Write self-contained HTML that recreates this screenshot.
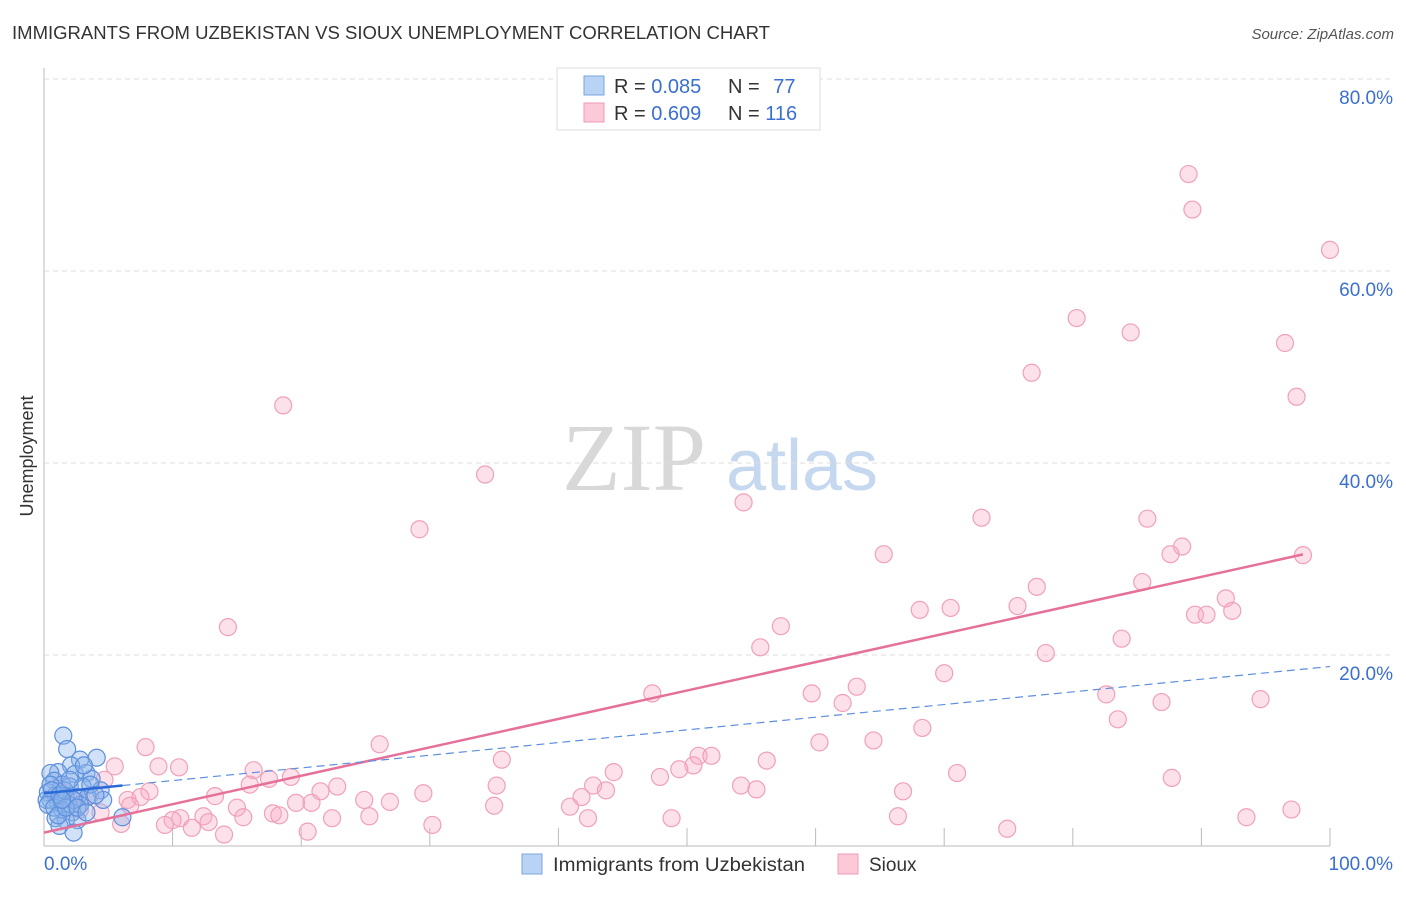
<!DOCTYPE html>
<html><head><meta charset="utf-8"><style>
body{margin:0;background:#fff;font-family:"Liberation Sans",sans-serif}
</style></head><body>
<svg id="chart" width="1406" height="892" xmlns="http://www.w3.org/2000/svg" font-family="Liberation Sans, sans-serif">
<text x="12" y="39" font-size="18" fill="#333" textLength="758" lengthAdjust="spacingAndGlyphs">IMMIGRANTS FROM UZBEKISTAN VS SIOUX UNEMPLOYMENT CORRELATION CHART</text>
<text x="1394" y="39" font-size="15" fill="#555" text-anchor="end" font-style="italic">Source: ZipAtlas.com</text>
<text transform="translate(33,456) rotate(-90)" font-size="18" fill="#333" text-anchor="middle">Unemployment</text>
<g>
<text x="634" y="490" font-size="96" fill="#d8d8d8" font-family="Liberation Serif, serif" text-anchor="middle">ZIP</text>
<text x="802" y="490" font-size="72" fill="#c5d8f0" text-anchor="middle">atlas</text>
</g>
<g id="grid"></g><g id="axes"></g><g id="pink"></g><g id="blue"></g><g id="lines"></g>
<g>
<rect x="557" y="68" width="263" height="62" fill="#fff" stroke="#ddd"/>
<rect x="584" y="76" width="20" height="19" fill="#b9d3f5" stroke="#7aa6e0"/>
<rect x="584" y="103" width="20" height="19" fill="#fcc9d8" stroke="#f09ab3"/>
<text x="614" y="93" font-size="20" fill="#333">R = <tspan fill="#3b6fd0">0.085</tspan></text>
<text x="728" y="93" font-size="20" fill="#333">N = <tspan fill="#3b6fd0" dx="8">77</tspan></text>
<text x="614" y="120" font-size="20" fill="#333">R = <tspan fill="#3b6fd0">0.609</tspan></text>
<text x="728" y="120" font-size="20" fill="#333">N = <tspan fill="#3b6fd0">116</tspan></text>
</g>
<g>
<rect x="522" y="854" width="20" height="20" fill="#b9d3f5" stroke="#7aa6e0"/>
<text x="553" y="871" font-size="19" fill="#333" textLength="252" lengthAdjust="spacingAndGlyphs">Immigrants from Uzbekistan</text>
<rect x="838" y="854" width="20" height="20" fill="#fcc9d8" stroke="#f09ab3"/>
<text x="869" y="871" font-size="19" fill="#333">Sioux</text>
</g>
</svg>
<script>
const yTicks=[20,40,60,80];
const yTickLabels=["20.0%","40.0%","60.0%","80.0%"];
const xTicks=[10,20,30,40,50,60,70,80,90,100];
const pinkX=[89.0,89.3,100,80.3,84.5,96.5,76.8,97.4,18.6,34.3,54.4,29.2,72.9,85.8,88.5,87.6,65.3,97.9,77.2,85.4,91.9,75.7,68.1,70.5,89.5,90.4,92.4,14.3,57.3,55.7,83.8,77.9,70.0,47.3,59.7,63.2,62.1,82.6,86.9,94.6,83.5,68.3,64.5,60.3,26.1,7.9,35.6,50.9,51.9,56.2,50.5,49.4,44.3,47.9,71.0,87.7,8.9,10.5,16.3,19.2,17.5,5.5,4.7,8.2,13.3,16.0,21.5,22.8,19.6,20.8,15.0,24.9,26.9,29.5,35.2,42.7,43.7,41.8,35.0,40.9,54.2,55.4,66.8,6.5,7.5,6.7,17.8,18.3,15.5,22.4,25.3,10.6,10.0,12.4,6.0,9.4,11.5,12.8,14.0,20.5,30.2,42.3,48.8,66.4,74.9,93.5,97.0,4.4,2.8,3.6,1.2,2.0];
const pinkY=[70.1,66.4,62.2,55.1,53.6,52.5,49.4,46.9,46.0,38.8,35.9,33.1,34.3,34.2,31.3,30.5,30.5,30.4,27.1,27.6,25.9,25.1,24.7,24.9,24.2,24.2,24.6,22.9,23.0,20.8,21.7,20.2,18.1,16.0,16.0,16.7,15.0,15.9,15.1,15.4,13.3,12.4,11.1,10.9,10.7,10.4,9.1,9.5,9.5,9.0,8.5,8.1,7.8,7.3,7.7,7.2,8.4,8.3,8.0,7.3,7.1,8.4,7.0,5.8,5.3,6.5,5.8,6.3,4.6,4.6,4.1,4.9,4.7,5.6,6.4,6.4,5.9,5.2,4.3,4.2,6.4,6.0,5.8,4.9,5.2,4.3,3.5,3.3,3.1,3.0,3.2,3.0,2.8,3.2,2.4,2.3,2.0,2.6,1.3,1.6,2.3,3.0,3.0,3.2,1.9,3.1,3.9,3.6,3.9,5.4,5.9,4.9];
const blueX=[1.5,1.8,4.1,2.8,2.1,1.1,0.5,2.4,3.3,3.7,0.8,1.4,2.0,3.0,4.4,0.3,0.9,1.7,2.6,3.4,4.6,0.5,1.1,1.9,2.8,1.4,2.2,0.9,1.7,2.6,1.2,2.3,6.1,0.5,0.6,0.2,0.3,0.8,1.2,1.6,2.0,3.1,3.6,4.0,2.3,1.1,1.7,1.4,2.6,3.3];
const blueY=[11.6,10.2,9.3,9.1,8.5,7.8,7.7,7.6,7.7,7.1,6.9,6.5,6.3,6.3,5.9,5.7,5.4,5.2,5.2,5.2,4.9,4.9,4.6,4.4,4.4,3.9,3.6,3.0,2.8,2.8,2.2,1.5,3.1,6.5,5.9,4.9,4.4,4.1,5.4,5.9,7.0,8.5,6.5,5.4,4.9,3.3,4.1,4.9,4.1,3.6];
const pinkTrend=[1.5,0.296];
const blueTrend=[5.6,0.132];
const NS="http://www.w3.org/2000/svg";
const sx=v=>44+v*12.86, sy=v=>847-v*9.6;
function mk(p,t,a){const e=document.createElementNS(NS,t);for(const k in a)e.setAttribute(k,a[k]);document.getElementById(p).appendChild(e);return e;}
yTicks.forEach((t,i)=>{
 const l=mk('grid','line',{x1:44,x2:1392,y1:sy(t),y2:sy(t),stroke:'#ddd','stroke-dasharray':'5,4'});
 
 
 const tx=mk('grid','text',{x:1393,y:sy(t)+25,'font-size':19,fill:'#3b6fd0','text-anchor':'end'});
 tx.textContent=yTickLabels[i];
 
 
});
let ax=mk('axes','line',{x1:44,x2:44,y1:68,y2:846,stroke:'#bbb'});


ax=mk('axes','line',{x1:44,x2:1330,y1:846,y2:846,stroke:'#bbb'});


xTicks.forEach(t=>{const l=mk('axes','line',{x1:sx(t),x2:sx(t),y1:828,y2:846,stroke:'#bbb'});
 
 });
let xl=mk('axes','text',{x:44,y:870,'font-size':19,fill:'#3b6fd0'});xl.textContent='0.0%';


xl=mk('axes','text',{x:1393,y:870,'font-size':19,fill:'#3b6fd0','text-anchor':'end'});xl.textContent='100.0%';


pinkX.forEach((x,i)=>{const c=mk('pink','circle',{cx:sx(x),cy:sy(pinkY[i]),r:8.5,fill:'rgba(248,170,195,0.35)',stroke:'#f0a0b8','stroke-width':1.2});
 
 });
blueX.forEach((x,i)=>{const c=mk('blue','circle',{cx:sx(x),cy:sy(blueY[i]),r:8.5,fill:'rgba(140,180,235,0.4)',stroke:'#5d8fdc','stroke-width':1.2});
 
 });
let tl=mk('lines','line',{x1:sx(0),y1:sy(pinkTrend[0]),x2:sx(97.9),y2:sy(pinkTrend[0]+pinkTrend[1]*97.9),stroke:'#e5709a','stroke-width':2.5});


tl=mk('lines','line',{x1:sx(6.1),y1:sy(blueTrend[0]+blueTrend[1]*6.1),x2:sx(100),y2:sy(blueTrend[0]+blueTrend[1]*100),stroke:'#5d8fdc','stroke-width':1.2,'stroke-dasharray':'8,5'});


tl=mk('lines','line',{x1:sx(0),y1:sy(blueTrend[0]),x2:sx(6.1),y2:sy(blueTrend[0]+blueTrend[1]*6.1),stroke:'#2a6ad8','stroke-width':2.5});


</script>
</body></html>
